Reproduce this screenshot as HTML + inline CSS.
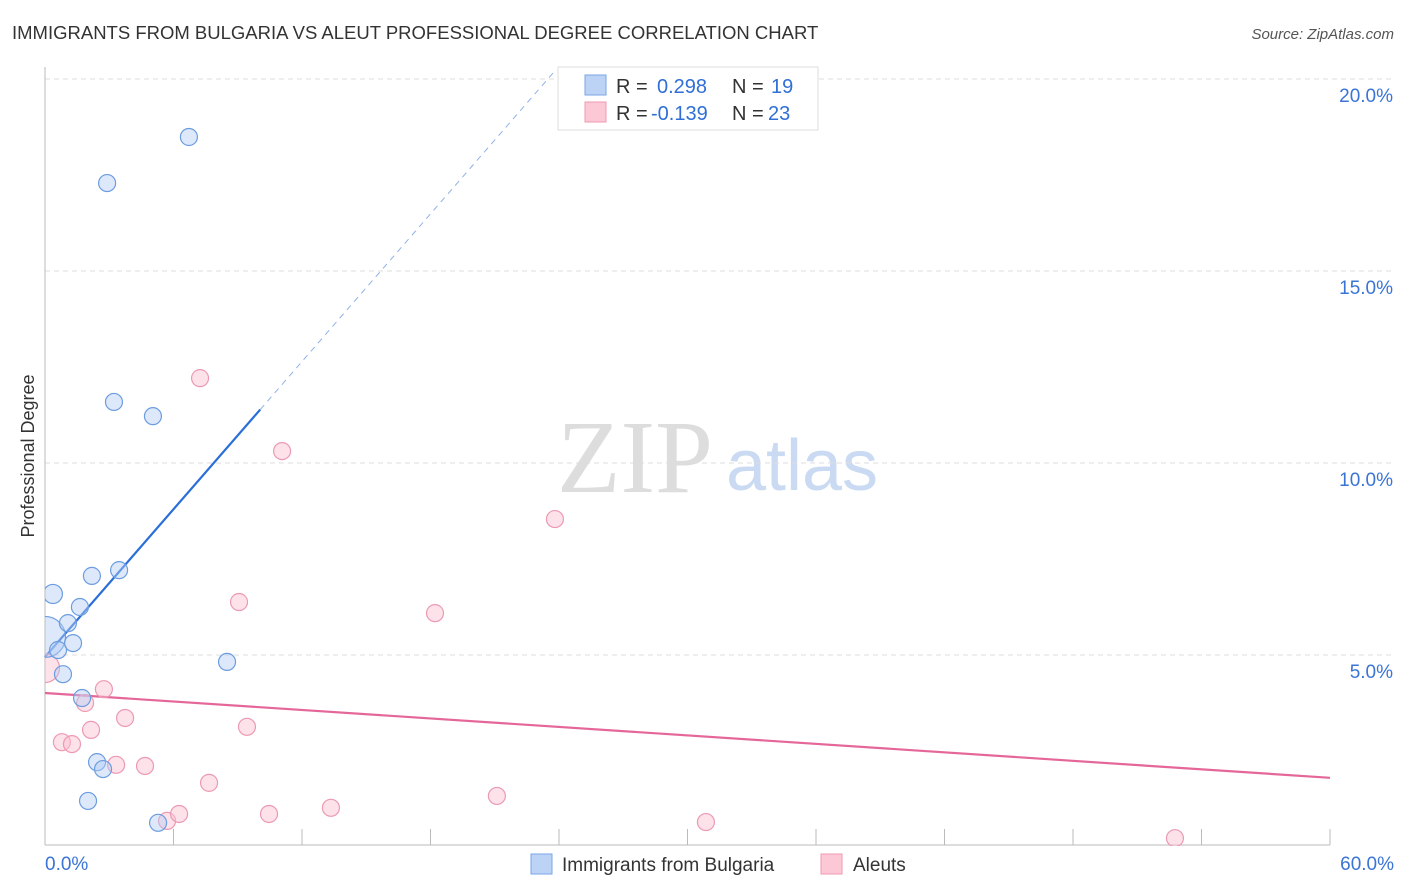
<!DOCTYPE html>
<html><head><meta charset="utf-8"><style>
body{margin:0;background:#fff;font-family:"Liberation Sans",sans-serif;}
svg{display:block}
</style></head><body>
<svg id="chart" width="1406" height="892">
<defs><clipPath id="plotclip"><rect x="45" y="60" width="1360" height="786"/></clipPath></defs>
<text x="12" y="39" font-size="18.5" fill="#333">IMMIGRANTS FROM BULGARIA VS ALEUT PROFESSIONAL DEGREE CORRELATION CHART</text>
<text x="1394" y="39" font-size="15" fill="#555" font-style="italic" text-anchor="end">Source: ZipAtlas.com</text>
<text x="34" y="456" font-size="18" fill="#333" text-anchor="middle" transform="rotate(-90 34 456)">Professional Degree</text>
<g>
<text x="635" y="492" font-size="104" fill="#ddd" font-family="Liberation Serif,serif" text-anchor="middle">ZIP</text>
<text x="802" y="490" font-size="72" fill="#c9daf2" text-anchor="middle">atlas</text>
</g>
<g id="grid"></g>
<g id="axes"></g>
<g id="lines"></g>
<g id="points" clip-path="url(#plotclip)"></g>
<g>
<rect x="558" y="67" width="260" height="63" fill="#fff" stroke="#ddd"/>
<rect x="585" y="75" width="21" height="20" fill="#bcd3f5" stroke="#7aa6e6"/>
<rect x="585" y="102" width="21" height="20" fill="#fcc8d6" stroke="#ef9ab2"/>
<text x="616" y="93" font-size="20" fill="#333">R = <tspan fill="#2f6fd6" x="657">0.298</tspan><tspan fill="#333" x="732">N =</tspan><tspan fill="#2f6fd6" x="771">19</tspan></text>
<text x="616" y="120" font-size="20" fill="#333">R = <tspan fill="#2f6fd6" x="651">-0.139</tspan><tspan fill="#333" x="732">N =</tspan><tspan fill="#2f6fd6" x="768">23</tspan></text>
</g>
<g>
<rect x="531" y="854" width="21" height="20" fill="#bcd3f5" stroke="#7aa6e6"/>
<text x="562" y="871" font-size="19" fill="#333">Immigrants from Bulgaria</text>
<rect x="821" y="854" width="21" height="20" fill="#fcc8d6" stroke="#ef9ab2"/>
<text x="853" y="871" font-size="19" fill="#333">Aleuts</text>
</g>
</svg>
<script>
const yTicks=[5,10,15,20];
const yTickLabels=["5.0%","10.0%","15.0%","20.0%"];
const xTicks=[0,6,12,18,24,30,36,42,48,54,60];
const blueX=[0,0.37,0.61,0.84,1.07,1.31,1.63,1.73,2.19,2.43,2.71,2.01,2.9,3.22,3.46,5.04,5.28,6.72,8.5];
const blueY=[5.47,6.59,5.13,4.5,5.83,5.31,6.25,3.88,7.06,2.21,2.03,1.2,17.29,11.59,7.21,11.22,0.63,18.49,4.82];
const blueR=[20,9,8,8,8,8,8,8,8,8,8,8,8,8,8,8,8,8,8];
const pinkX=[0,0.79,1.26,1.87,2.15,2.75,3.32,3.74,4.67,5.7,6.26,7.24,7.66,9.06,9.43,10.46,11.07,13.35,18.21,21.1,23.81,30.86,52.76];
const pinkY=[4.66,2.73,2.68,3.75,3.05,4.11,2.14,3.36,2.11,0.68,0.86,12.21,1.67,6.38,3.13,0.86,10.31,1.02,6.09,1.33,8.54,0.65,0.23];
const pinkR=[14,8,8,8,8,8,8,8,8,8,8,8,8,8,8,8,8,8,8,8,8,8,8];
const blueFit=[4.95,0.641];
const pinkFit=[4.01,-0.0368];
const X=v=>45+v*1285/60, Y=v=>847-v*38.4;
const NS="http://www.w3.org/2000/svg";
function mk(p,t,a){const e=document.createElementNS(NS,t);for(const k in a)e.setAttribute(k,a[k]);document.getElementById(p).appendChild(e);return e;}
yTicks.forEach((t,i)=>{
 const g=mk('grid','line',{x1:45,x2:1394,y1:Y(t),y2:Y(t),stroke:'#ddd','stroke-dasharray':'5,4'});
 
 
 const l=mk('grid','text',{x:1393,y:Y(t)+23,'font-size':19,fill:'#3a74d6','text-anchor':'end'});l.textContent=yTickLabels[i];
 
 
});
mk('axes','line',{x1:45,x2:45,y1:67,y2:845,stroke:'#bbb'});
mk('axes','line',{x1:45,x2:1330,y1:845,y2:845,stroke:'#bbb'});
xTicks.forEach(t=>{const e=mk('axes','line',{x1:X(t),x2:X(t),y1:829,y2:845,stroke:'#bbb'});
 
 });
let a=mk('axes','text',{x:45,y:870,'font-size':19,fill:'#3a74d6'});a.textContent='0.0%';


a=mk('axes','text',{x:1394,y:870,'font-size':19,fill:'#3a74d6','text-anchor':'end'});a.textContent='60.0%';


function pts(xs,ys,rs,fill,stroke,name){xs.forEach((x,i)=>{const c=mk('points','circle',{cx:X(x),cy:Y(ys[i]),r:rs[i]+0.5,fill:fill,stroke:stroke,'stroke-width':1.2});
 
 });}
pts(pinkX,pinkY,pinkR,'rgba(250,190,208,0.45)','#ec9ab3','aleut-point');
pts(blueX,blueY,blueR,'rgba(180,205,245,0.45)','#6c9de0','bulgaria-point');
const bx=10.05;
let ln=mk('lines','line',{x1:X(0),y1:Y(blueFit[0]),x2:X(bx),y2:Y(blueFit[0]+blueFit[1]*bx),stroke:'#2a6fd8','stroke-width':2.2});


const bx2=(20.2-blueFit[0])/blueFit[1];
ln=mk('lines','line',{x1:X(bx),y1:Y(blueFit[0]+blueFit[1]*bx),x2:X(bx2),y2:Y(20.2),stroke:'#8fb2e8','stroke-width':1,'stroke-dasharray':'6,5'});


ln=mk('lines','line',{x1:X(0),y1:Y(pinkFit[0]),x2:X(60),y2:Y(pinkFit[0]+pinkFit[1]*60),stroke:'#e5679a','stroke-width':2.2});


</script>
</body></html>
